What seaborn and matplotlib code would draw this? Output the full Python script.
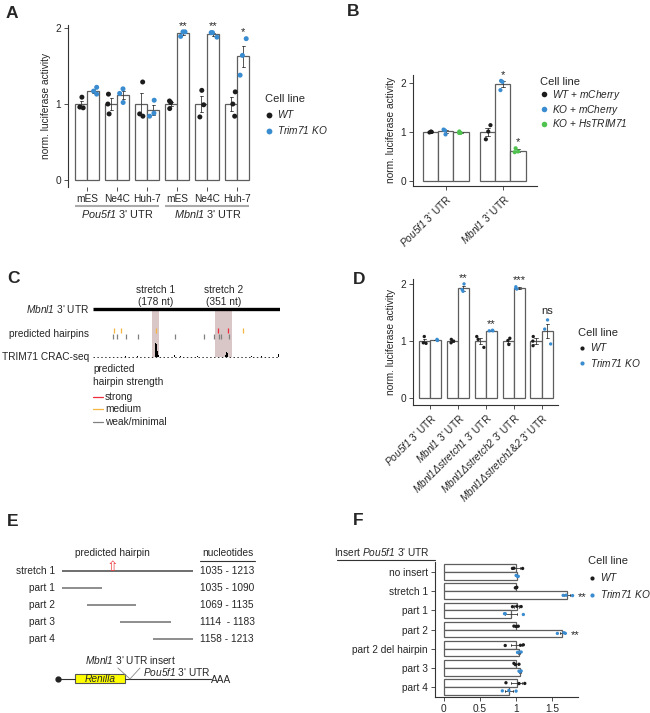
import numpy as np
import pandas as pd
import matplotlib
matplotlib.use("Agg")
import matplotlib.pyplot as plt
import matplotlib.transforms as mtransforms
from matplotlib.lines import Line2D
from matplotlib.patches import Rectangle
import seaborn as sns

sns.set_style("ticks")
plt.rcParams["font.family"] = ["Liberation Sans", "DejaVu Sans"]
plt.rcParams["font.size"] = 7.3
plt.rcParams["mathtext.fontset"] = "custom"
plt.rcParams["mathtext.rm"] = "Liberation Sans:italic"
plt.rcParams["mathtext.it"] = "Liberation Sans:italic"
np.random.seed(3)

BLACK = "#1c1c1c"
BLUE = "#3a8cd0"
GREEN = "#4fc24f"

# ---- panel A data
a_utrs = ["Pou5f1", "Mbnl1"]
a_cells = ["mES", "Ne4C", "Huh-7"]
a_wt = [[1.09, 0.95, 0.96], [1.13, 0.87, 1.00], [1.29, 0.87, 0.84],
        [1.04, 1.02, 0.94], [1.18, 0.99, 0.83], [1.16, 1.00, 0.84]]
a_ko = [[1.17, 1.22, 1.13], [1.20, 1.14, 1.02], [1.05, 0.84, 0.88],
        [1.95, 1.95, 1.89], [1.94, 1.94, 1.88], [1.86, 1.64, 1.38]]
a_stars = ["", "", "", "**", "**", "*"]

# ---- panel B data
b_utrs = ["Pou5f1", "Mbnl1"]
b_wt = [[1.00, 1.01, 0.99], [1.14, 1.01, 0.85]]
b_ko = [[1.05, 1.03, 0.95], [2.05, 2.03, 1.86]]
b_rescue = [[0.98, 1.01, 0.98], [0.665, 0.60, 0.585]]
b_stars_ko = ["", "*"]
b_stars_rescue = ["", "*"]

# ---- panel C data (positions along the UTR, 0-1000)
utr_len = 1000
stretches = [(318, 356), (653, 742)]
stretch_labels = ["stretch 1\n(178 nt)", "stretch 2\n(351 nt)"]
hp_strong = [671, 721]
hp_medium = [114, 151, 338, 804]
hp_weak = [107, 128, 178, 240, 439, 596, 649, 674, 683, 729]
crac_pos = [174, 240, 333, 337, 341, 345, 349, 439, 470, 560, 710, 714, 718, 722, 850, 900, 990]
crac_sig = [1, 1, 12, 14, 13, 6, 2, 2.5, 1, 1, 2, 5, 4, 2, 1, 1, 3]

# ---- panel D data
d_utrs = ["Pou5f1", "Mbnl1", "Mbnl1Δstretch1", "Mbnl1Δstretch2", "Mbnl1Δstretch1&2"]
d_wt = [[1.08, 0.97, 0.96], [1.03, 1.00, 0.97], [1.08, 1.03, 0.89],
        [1.05, 1.01, 0.94], [1.08, 1.00, 0.92]]
d_ko = [[1.01, 1.02, 1.03], [2.00, 1.90, 1.87], [1.18, 1.18, 1.19],
        [1.95, 1.92, 1.91], [1.37, 1.21, 0.95]]
d_stars = ["", "**", "**", "***", "ns"]

# ---- panel E data (nucleotides)
e_rows = ["stretch 1", "part 1", "part 2", "part 3", "part 4"]
e_start = [1035, 1035, 1069, 1114, 1158]
e_end = [1213, 1090, 1135, 1183, 1213]
e_text = ["1035 - 1213", "1035 - 1090", "1069 - 1135", "1114  - 1183", "1158 - 1213"]
hairpin_nt = 1103

# ---- panel F data
f_inserts = ["no insert", "stretch 1", "part 1", "part 2", "part 2 del hairpin", "part 3", "part 4"]
f_wt = [[0.95, 0.97, 1.09], [1.00, 1.01, 0.99], [0.95, 1.01, 1.07], [0.97, 1.00, 1.03],
        [0.85, 1.06, 1.10], [0.97, 0.99, 1.04], [0.86, 1.04, 1.12]]
f_ko = [[1.00, 1.02, 1.03], [1.65, 1.69, 1.78], [0.84, 0.85, 1.10], [1.57, 1.66, 1.68],
        [1.02, 1.04, 1.07], [1.04, 1.05, 1.07], [0.81, 0.90, 1.00]]
f_stars = ["", "**", "", "**", "", "", ""]

W, H = 650, 713
fig = plt.figure(figsize=(6.5, 7.13), dpi=100)


def add_ax(l, t, r, b):
    return fig.add_axes([l / W, 1 - b / H, (r - l) / W, (b - t) / H])


def long_df(groups, series):
    rows = []
    for name, vals in series.items():
        for g, reps in zip(groups, vals):
            for v in reps:
                rows.append((g, name, v))
    return pd.DataFrame(rows, columns=["group", "cell", "value"])


def bars(ax, df, colors, order, orient="v", size=3.4, jitter=0.27):
    hue_order = list(colors)
    if orient == "v":
        kws = dict(x="group", y="value")
    else:
        kws = dict(x="value", y="group")
    sns.barplot(data=df, hue="cell", hue_order=hue_order, order=order,
                palette=["white"] * len(hue_order), edgecolor="#5e5e5e", linewidth=0.9,
                errorbar="se", capsize=0.22, err_kws={"color": "#3a3a3a", "linewidth": 0.6},
                legend=False, ax=ax, orient=orient, **kws)
    sns.stripplot(data=df, hue="cell", hue_order=hue_order, order=order,
                  palette=list(colors.values()), dodge=True, jitter=jitter, size=size,
                  linewidth=0, legend=False, ax=ax, orient=orient, zorder=5, **kws)
    ax.set_xlabel("")
    ax.set_ylabel("")
    ax.tick_params(length=3, width=0.6, pad=2, labelsize=7.3, color="#333333")
    for s in ax.spines.values():
        s.set_color("#333333")
        s.set_linewidth(0.8)


def stars(ax, labels, reps_list, offset, horizontal=False):
    for i, (lab, reps) in enumerate(zip(labels, reps_list)):
        if not lab:
            continue
        shift = 6.5 if lab == "ns" else 4.5
        if horizontal:
            ax.annotate(lab, (max(reps), i + offset), xytext=(7, -1.5), textcoords="offset points",
                        ha="center", va="center", fontsize=8, annotation_clip=False)
        else:
            ax.annotate(lab, (i + offset, max(reps)), xytext=(0, shift), textcoords="offset points",
                        ha="center", va="center", fontsize=8, annotation_clip=False)


def legend(ax, labels, colors, x, y, msize, spacing):
    handles = [Line2D([], [], ls="", marker="o", ms=msize, mfc=c, mec="none") for c in colors]
    ax.legend(handles, labels, title="Cell line", loc="upper left", bbox_to_anchor=(x / W, 1 - y / H),
              bbox_transform=fig.transFigure, frameon=False, fontsize=7.3, title_fontsize=8,
              handlelength=0.8, handletextpad=0.4, labelspacing=spacing, borderpad=0,
              borderaxespad=0, alignment="left")


def utr_label(gene):
    # italic gene name, plain "3' UTR"; an ampersand stays outside the math part
    parts = gene.split("&")
    txt = "$\\it{" + parts[0] + "}$"
    if len(parts) > 1:
        txt += "&$\\it{" + parts[1] + "}$"
    return txt + " 3' UTR"


# ================= A
axA = add_ax(68, 25, 253, 187)
a_groups = [f"{u} {c}" for u in a_utrs for c in a_cells]
dfA = long_df(a_groups, {"WT": a_wt, "Trim71 KO": a_ko})
bars(axA, dfA, {"WT": BLACK, "Trim71 KO": BLUE}, a_groups, size=3.6, jitter=0.27)
axA.set_xlim(-0.65, 5.52)
axA.set_ylim(-0.092, 2.04)
axA.set_yticks([0, 1, 2])
axA.set_xticks(range(len(a_groups)))
axA.set_xticklabels(a_cells * len(a_utrs))
axA.set_ylabel("norm. luciferase activity", labelpad=3)
sns.despine(ax=axA, bottom=True)
stars(axA, a_stars, a_ko, 0.2)
trA = mtransforms.blended_transform_factory(axA.transData, axA.transAxes)
for k, u in enumerate(a_utrs):
    i0, i1 = k * len(a_cells), (k + 1) * len(a_cells) - 1
    axA.plot([i0 - 0.42, i1 + 0.38], [-0.115, -0.115], transform=trA, color="#aaaaaa",
             lw=1.5, clip_on=False, solid_capstyle="butt")
    axA.text((i0 + i1) / 2, -0.165, utr_label(u), transform=trA, ha="center", va="center",
             fontsize=7.8)
legend(axA, ["$\\it{WT}$", "$\\it{Trim71\\ KO}$"], [BLACK, BLUE], 265, 94, 4.2, 0.4)

# ================= B
axB = add_ax(412.7, 75, 537, 185.7)
b_names = ["WT + mCherry", "KO + mCherry", "KO + HsTRIM71"]
dfB = long_df(b_utrs, {b_names[0]: b_wt, b_names[1]: b_ko, b_names[2]: b_rescue})
bars(axB, dfB, dict(zip(b_names, [BLACK, BLUE, GREEN])), b_utrs, size=3.0, jitter=0.21)
axB.set_xlim(-0.58, 1.60)
axB.set_ylim(-0.103, 2.17)
axB.set_yticks([0, 1, 2])
axB.set_xticks(range(len(b_utrs)))
axB.set_xticklabels([utr_label(u) for u in b_utrs], rotation=45, ha="right",
                    rotation_mode="anchor")
axB.set_ylabel("norm. luciferase activity", labelpad=3)
sns.despine(ax=axB)
stars(axB, b_stars_ko, b_ko, 0.0)
stars(axB, b_stars_rescue, b_rescue, 0.8 / 3)
legend(axB, ["$\\it{WT}$ + $\\it{mCherry}$", "$\\it{KO}$ + $\\it{mCherry}$",
             "$\\it{KO}$ + $\\it{HsTRIM71}$"], [BLACK, BLUE, GREEN], 540, 77, 4.0, 0.08)

# ================= C
axC = add_ax(92.7, 300, 280, 360)
axC.set_xlim(0, utr_len)
axC.set_ylim(0, 60)
axC.axis("off")
UTR_Y, HP_HI, HP_LO, BASE = 50.7, 30, 23.3, 2.7
for (s, e), lab in zip(stretches, stretch_labels):
    axC.axvspan(s, e, ymin=BASE / 60, ymax=50 / 60, color="#d9c6c6", lw=0, zorder=0)
    axC.text((s + e) / 2, 64, lab, ha="center", va="center", linespacing=1.35)
axC.plot([0, utr_len], [UTR_Y, UTR_Y], color="black", lw=2.4, solid_capstyle="butt")
axC.vlines(hp_medium, HP_HI - 2.5, HP_HI + 2.5, color="#f5b53f", lw=0.9)
axC.vlines(hp_strong, HP_HI - 2.5, HP_HI + 2.5, color="#ee2e3e", lw=0.9)
axC.vlines(hp_weak, HP_LO - 2.5, HP_LO + 2.5, color="#808080", lw=0.9)
axC.plot([0, utr_len], [BASE, BASE], color="#333333", lw=0.7, ls=(0, (1.5, 2.5)))
axC.bar(crac_pos, crac_sig, width=5, bottom=BASE, color="black", lw=0)
for y, txt in [(UTR_Y, "$\\it{Mbnl1}$ 3' UTR"), (26, "predicted hairpins"), (3, "TRIM71 CRAC-seq")]:
    axC.text(-20, y, txt, ha="right", va="center", clip_on=False)
axC.text(2, -15.5, "predicted\nhairpin strength", ha="left", va="center", linespacing=1.35)
for y, c, txt in [(-36.7, "#ee2e3e", "strong"), (-49.3, "#f5b53f", "medium"),
                  (-62.3, "#808080", "weak/minimal")]:
    axC.plot([2, 55], [y, y], color=c, lw=0.9, clip_on=False)
    axC.text(66, y, txt, ha="left", va="center")

# ================= D
axD = add_ax(412.7, 279.3, 558, 405)
dfD = long_df(d_utrs, {"WT": d_wt, "Trim71 KO": d_ko})
bars(axD, dfD, {"WT": BLACK, "Trim71 KO": BLUE}, d_utrs, size=2.4, jitter=0.28)
axD.set_xlim(-0.62, 4.59)
axD.set_ylim(-0.117, 2.08)
axD.set_yticks([0, 1, 2])
axD.set_xticks(range(len(d_utrs)))
axD.set_xticklabels([utr_label(u) for u in d_utrs], rotation=45, ha="right",
                    rotation_mode="anchor")
axD.set_ylabel("norm. luciferase activity", labelpad=3)
sns.despine(ax=axD)
stars(axD, d_stars, d_ko, 0.2)
legend(axD, ["$\\it{WT}$", "$\\it{Trim71\\ KO}$"], [BLACK, BLUE], 578, 328, 3.0, 0.33)

# ================= E
axE = add_ax(62, 545, 193, 690)
axE.set_xlim(1035, 1213)
axE.set_ylim(7.0, -1.53)
axE.axis("off")
trE = mtransforms.blended_transform_factory(axE.transAxes, axE.transData)
rows = np.arange(len(e_rows))
axE.hlines(rows, e_start, e_end, colors=["#555555"] + ["#7a7a7a"] * (len(e_rows) - 1), lw=1.2)
for i, (lab, txt) in enumerate(zip(e_rows, e_text)):
    axE.text(-0.053, i, lab, transform=trE, ha="right", va="center")
    axE.text(1.053, i, txt, transform=trE, ha="left", va="center")
axE.text(hairpin_nt, -1.06, "predicted hairpin", ha="center", va="center")
axE.text(1.263, -1.06, "nucleotides", transform=trE, ha="center", va="center")
axE.plot([1.053, 1.473], [-0.59, -0.59], transform=trE, color="#333333", lw=0.8, clip_on=False)
axE.text(hairpin_nt, -0.22, "⇧", ha="center", va="center", color="#f04040", fontsize=10,
         family=["DejaVu Sans"])
CY = 6.35
axE.plot([-0.03, 0.099], [CY, CY], transform=trE, color="#333333", lw=0.8, clip_on=False)
axE.plot([-0.03], [CY], transform=trE, marker="o", ms=3.5, color="#222222", clip_on=False)
axE.add_patch(Rectangle((0.099, CY - 0.29), 0.382, 0.55, transform=trE, facecolor="#ffff00",
                        edgecolor="#555555", lw=0.8, clip_on=False))
axE.text(0.29, CY, "Renilla", transform=trE, ha="center", va="center", style="italic")
axE.plot([0.481, 1.137], [CY, CY], transform=trE, color="#333333", lw=0.8, clip_on=False)
axE.plot([0.427, 0.519, 0.595], [5.71, CY, 5.71], transform=trE, color="#888888", lw=0.6,
         clip_on=False)
axE.text(1.14, CY + 0.05, "AAA", transform=trE, ha="left", va="center")
axE.text(0.176, 5.22, "$\\it{Mbnl1}$ 3' UTR insert", transform=trE, ha="left", va="center")
axE.text(0.618, 5.95, utr_label("Pou5f1"), transform=trE, ha="left", va="center")

# ================= F
axF = add_ax(435, 562, 578, 697)
dfF = long_df(f_inserts, {"WT": f_wt, "Trim71 KO": f_ko})
bars(axF, dfF, {"WT": BLACK, "Trim71 KO": BLUE}, f_inserts, orient="h", size=2.4, jitter=0.08)
axF.set_xlim(-0.12, 1.855)
axF.set_ylim(6.52, -0.52)
axF.set_xticks([0, 0.5, 1, 1.5])
axF.set_xticklabels(["0", "0.5", "1", "1.5"])
sns.despine(ax=axF)
stars(axF, f_stars, f_ko, 0.2, horizontal=True)
fig.text(334 / W, 1 - 552 / H, "Insert " + utr_label("Pou5f1"), ha="left", va="center")
fig.add_artist(Line2D([337 / W, 435 / W], [1 - 560 / H, 1 - 560 / H], color="#333333", lw=0.8))
legend(axF, ["$\\it{WT}$", "$\\it{Trim71\\ KO}$"], [BLACK, BLUE], 588, 556, 3.0, 0.5)

# panel letters
for lab, x, y in [("A", 6, 6), ("B", 347, 4), ("C", 7, 271), ("D", 353, 272),
                  ("E", 7, 514), ("F", 353, 513)]:
    fig.text(x / W, 1 - y / H, lab, ha="left", va="top", fontsize=12.5, fontweight="bold")

fig.savefig("out.png", dpi=100)
